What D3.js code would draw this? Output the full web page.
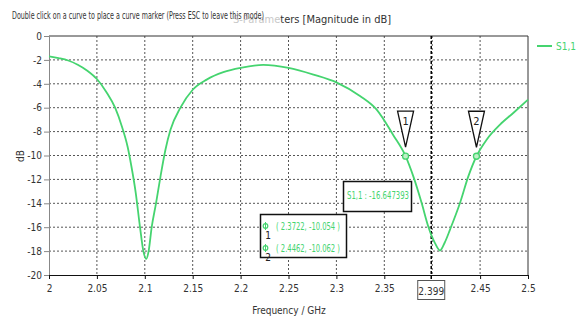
<!DOCTYPE html>
<html lang="en">
<head>
<meta charset="utf-8">
<title>S-Parameters</title>
<script src="https://d3js.org/d3.v7.min.js"></script>
<style>
  body { margin: 0; background: #fff; }
  text { font-family: "DejaVu Sans Condensed", "Liberation Sans Narrow", sans-serif; }
  .grid line { stroke: #555; stroke-dasharray: 2,2; stroke-width: 1; }
  .axis text { fill: #333; font-size: 10px; }
</style>
</head>
<body>
<div id="chart"></div>
<script>
// S1,1 readings (GHz, dB)
var freq = [2.000, 2.010, 2.020, 2.030, 2.040, 2.050, 2.060, 2.069, 2.076, 2.082, 2.086, 2.0905, 2.095, 2.0985, 2.1015,
            2.1040, 2.1072, 2.1117, 2.1165, 2.1216, 2.1268, 2.1372, 2.150, 2.1646, 2.182, 2.200, 2.2237, 2.250,
            2.276, 2.301, 2.325, 2.342, 2.3594, 2.3722, 2.3803, 2.389, 2.3959, 2.399, 2.4029, 2.4081, 2.413,
            2.4186, 2.429, 2.4377, 2.4462, 2.4568, 2.4708, 2.4846, 2.500];
var s11 = [-1.70, -1.85, -2.05, -2.40, -2.90, -3.60, -4.70, -6.00, -7.55, -9.25, -10.9, -13.1, -16.0, -18.0, -18.65,
           -18.0, -16.0, -14.0, -11.7, -9.5, -7.85, -6.0, -4.5, -3.65, -3.03, -2.67, -2.42, -2.67,
           -3.23, -3.92, -5.04, -6.16, -8.3, -10.054, -11.75, -13.98, -15.94, -16.647, -17.33, -17.95, -17.3,
           -16.2, -13.98, -11.75, -10.062, -8.68, -7.42, -6.44, -5.32];
var xTicks = [2, 2.05, 2.1, 2.15, 2.2, 2.25, 2.3, 2.35, 2.45, 2.5];
var xGrid = [2.05, 2.1, 2.15, 2.2, 2.25, 2.3, 2.35, 2.4, 2.45];
var yTicks = [0, -2, -4, -6, -8, -10, -12, -14, -16, -18, -20];
var markerNames = ["1", "2"];
var markerFreq = [2.3722, 2.4462];
var markerVal = [-10.054, -10.062];
var cursorFreq = 2.399;
var cursorVal = "-16.647393";

var w = 581, h = 320;
var green = "#45d46f";
var svg = d3.select("#chart").append("svg").attr("width", w).attr("height", h);
var x = d3.scaleLinear().domain([2, 2.5]).range([49, 528]);
var y = d3.scaleLinear().domain([-20, 0]).range([275, 36]);

// grid
var grid = svg.append("g").attr("class", "grid");
grid.selectAll(".v").data(xGrid).enter().append("line")
  .attr("x1", d => x(d)).attr("x2", d => x(d)).attr("y1", y(0)).attr("y2", y(-20));
grid.selectAll(".h").data(yTicks.slice(1, -1)).enter().append("line")
  .attr("x1", x(2)).attr("x2", x(2.5)).attr("y1", d => y(d)).attr("y2", d => y(d));

// frame
svg.append("line").attr("x1", x(2)).attr("x2", x(2.5)).attr("y1", y(0)).attr("y2", y(0)).attr("stroke", "#333");
svg.append("line").attr("x1", x(2.5)).attr("x2", x(2.5)).attr("y1", y(0)).attr("y2", y(-20)).attr("stroke", "#333");

// axes
var yAxis = d3.axisLeft(y).tickValues(yTicks).tickSize(5).tickPadding(2).tickFormat(d => String(d));
var gy = svg.append("g").attr("class", "axis").attr("transform", "translate(" + x(2) + ",0)").call(yAxis);
gy.selectAll("path, line").attr("stroke", "#888");
var xAxis = d3.axisBottom(x).tickValues(xTicks).tickSize(4).tickPadding(6).tickFormat(d => String(d));
var gx = svg.append("g").attr("class", "axis").attr("transform", "translate(0," + y(-20) + ")").call(xAxis);
gx.selectAll("path, line").attr("stroke", "#111");

// cursor
svg.append("line").attr("x1", x(cursorFreq)).attr("x2", x(cursorFreq)).attr("y1", y(0)).attr("y2", y(-20) + 4)
  .attr("stroke", "#000").attr("stroke-width", 1.5).attr("stroke-dasharray", "3,2");
svg.append("rect").attr("x", x(cursorFreq) - 13.5).attr("y", 280.5).attr("width", 27).attr("height", 19)
  .attr("fill", "#fff").attr("stroke", "#555");
svg.append("text").attr("x", x(cursorFreq)).attr("y", 295).attr("text-anchor", "middle")
  .attr("font-size", 10).attr("fill", "#333").text(String(cursorFreq));

// curve
var pts = freq.map((f, i) => [f, s11[i]]);
var line = d3.line().x(d => x(d[0])).y(d => y(d[1])).curve(d3.curveMonotoneX);
svg.append("path").datum(pts).attr("d", line).attr("fill", "none").attr("stroke", green).attr("stroke-width", 1.8);

// markers
markerFreq.forEach(function(f, i) {
  var px = x(f), py = y(markerVal[i]);
  svg.append("path").attr("d", "M" + (px - 8) + "," + (py - 45) + "L" + (px + 8) + "," + (py - 45) + "L" + px + "," + (py - 9) + "Z")
    .attr("fill", "#fff").attr("stroke", "#111").attr("stroke-width", 1.3);
  svg.append("text").attr("x", px).attr("y", py - 31).attr("text-anchor", "middle").attr("font-size", 11).attr("fill", "#222").text(markerNames[i]);
  svg.append("circle").attr("cx", px).attr("cy", py).attr("r", 3).attr("fill", "#bff0c8").attr("stroke", green).attr("stroke-width", 1.3);
});

// cursor value box
svg.append("rect").attr("x", 343.5).attr("y", 181.5).attr("width", 68).attr("height", 30)
  .attr("fill", "#fff").attr("stroke", "#111").attr("stroke-width", 1.5);
svg.append("text").attr("x", 347).attr("y", 199).attr("font-size", 10).attr("fill", green)
  .attr("textLength", 62).attr("lengthAdjust", "spacingAndGlyphs").text("S1,1 : " + cursorVal);

// marker list
svg.append("rect").attr("x", 260.5).attr("y", 214.5).attr("width", 86).attr("height", 43)
  .attr("fill", "#fff").attr("stroke", "#111").attr("stroke-width", 1.5);
markerFreq.forEach(function(f, i) {
  var ry = 228 + i * 22;
  svg.append("circle").attr("cx", 265.5).attr("cy", ry - 2).attr("r", 2.3).attr("fill", "none").attr("stroke", green).attr("stroke-width", 1.2);
  svg.append("line").attr("x1", 265.5).attr("x2", 265.5).attr("y1", ry - 6).attr("y2", ry + 2).attr("stroke", green);
  svg.append("text").attr("x", 268).attr("y", ry + 11).attr("text-anchor", "middle").attr("font-size", 10).attr("fill", "#222").text(markerNames[i]);
  svg.append("text").attr("x", 276).attr("y", ry + 2).attr("font-size", 10).attr("fill", green)
    .attr("textLength", 64).attr("lengthAdjust", "spacingAndGlyphs")
    .text("( " + f + ", " + markerVal[i] + " )");
});

// legend
svg.append("line").attr("x1", 537).attr("x2", 552).attr("y1", 46).attr("y2", 46).attr("stroke", green).attr("stroke-width", 2);
svg.append("text").attr("x", 556).attr("y", 50).attr("font-size", 10).attr("fill", green).text("S1,1");

// titles
var title = svg.append("text").attr("x", 233).attr("y", 23).attr("font-size", 11);
title.append("tspan").attr("fill", "#c8c8c8").text("S-Parame");
title.append("tspan").attr("fill", "#333").text("ters [Magnitude in dB]");
svg.append("text").attr("x", 12).attr("y", 19).attr("font-size", 10).attr("fill", "#333")
  .attr("textLength", 252).attr("lengthAdjust", "spacingAndGlyphs")
  .text("Double click on a curve to place a curve marker (Press ESC to leave this mode)");

svg.append("text").attr("x", 289).attr("y", 314).attr("text-anchor", "middle").attr("font-size", 10).attr("fill", "#333").text("Frequency / GHz");
svg.append("text").attr("transform", "translate(24,156) rotate(-90)").attr("text-anchor", "middle").attr("font-size", 10).attr("fill", "#333").text("dB");
</script>
</body>
</html>
